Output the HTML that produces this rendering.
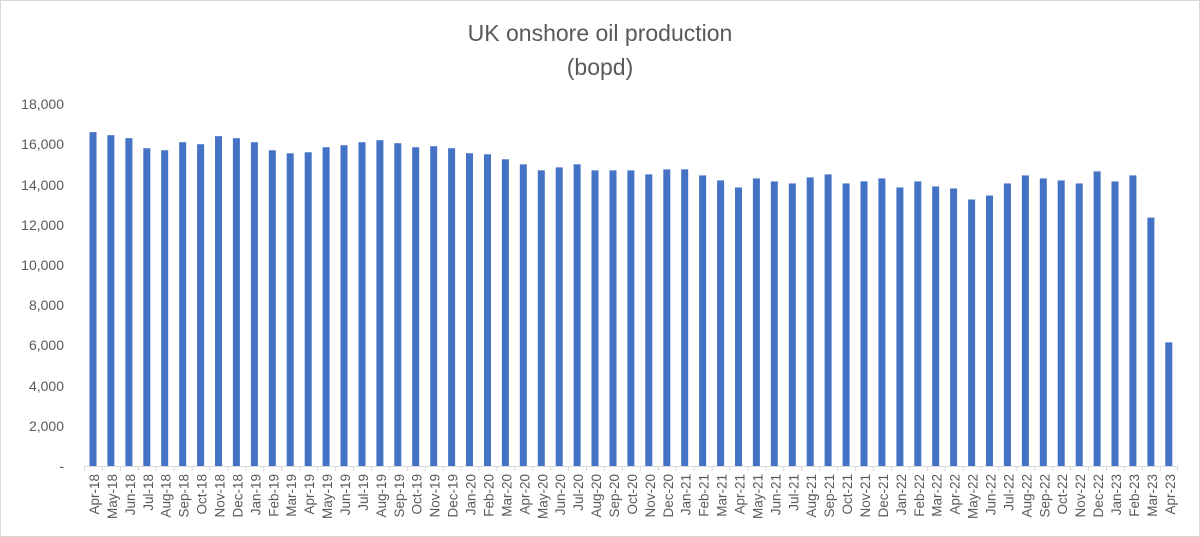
<!DOCTYPE html>
<html><head><meta charset="utf-8"><style>
html,body{margin:0;padding:0;background:#fff}
svg{display:block}
</style></head><body>
<svg width="1200" height="537" xmlns="http://www.w3.org/2000/svg" font-family="Liberation Sans, sans-serif">
<rect x="0.5" y="0.5" width="1199" height="536" fill="#fff" stroke="#d9d9d9"/>
<text x="600" y="41" text-anchor="middle" font-size="23" fill="#595959">UK onshore oil production</text>
<text x="600" y="75" text-anchor="middle" font-size="23" fill="#595959">(bopd)</text>
<g font-size="14" fill="#595959" text-anchor="end">
<text x="64" y="471">-</text>
<text x="64" y="431">2,000</text>
<text x="64" y="391">4,000</text>
<text x="64" y="350">6,000</text>
<text x="64" y="310">8,000</text>
<text x="64" y="270">10,000</text>
<text x="64" y="230">12,000</text>
<text x="64" y="190">14,000</text>
<text x="64" y="149">16,000</text>
<text x="64" y="109">18,000</text>
</g>
<line x1="84" y1="466.5" x2="1178" y2="466.5" stroke="#d9d9d9"/>
<path stroke="#d9d9d9" stroke-width="1" d="M84.5 466v5M102.4 466v5M120.4 466v5M138.3 466v5M156.2 466v5M174.2 466v5M192.1 466v5M210 466v5M227.9 466v5M245.9 466v5M263.8 466v5M281.7 466v5M299.7 466v5M317.6 466v5M335.5 466v5M353.5 466v5M371.4 466v5M389.3 466v5M407.2 466v5M425.2 466v5M443.1 466v5M461 466v5M479 466v5M496.9 466v5M514.8 466v5M532.8 466v5M550.7 466v5M568.6 466v5M586.5 466v5M604.5 466v5M622.4 466v5M640.3 466v5M658.3 466v5M676.2 466v5M694.1 466v5M712.1 466v5M730 466v5M747.9 466v5M765.8 466v5M783.8 466v5M801.7 466v5M819.6 466v5M837.6 466v5M855.5 466v5M873.4 466v5M891.4 466v5M909.3 466v5M927.2 466v5M945.1 466v5M963.1 466v5M981 466v5M998.9 466v5M1016.9 466v5M1034.8 466v5M1052.7 466v5M1070.7 466v5M1088.6 466v5M1106.5 466v5M1124.4 466v5M1142.4 466v5M1160.3 466v5M1177.5 466v5"/>
<g fill="#4472c4" transform="translate(0,466) scale(1,-0.020111)">
<rect x="89.5" y="0" width="7" height="16600"/>
<rect x="107.4" y="0" width="7" height="16450"/>
<rect x="125.4" y="0" width="7" height="16300"/>
<rect x="143.3" y="0" width="7" height="15800"/>
<rect x="161.2" y="0" width="7" height="15700"/>
<rect x="179.2" y="0" width="7" height="16100"/>
<rect x="197.1" y="0" width="7" height="16000"/>
<rect x="215.0" y="0" width="7" height="16400"/>
<rect x="232.9" y="0" width="7" height="16300"/>
<rect x="250.9" y="0" width="7" height="16100"/>
<rect x="268.8" y="0" width="7" height="15700"/>
<rect x="286.7" y="0" width="7" height="15550"/>
<rect x="304.7" y="0" width="7" height="15600"/>
<rect x="322.6" y="0" width="7" height="15850"/>
<rect x="340.5" y="0" width="7" height="15950"/>
<rect x="358.5" y="0" width="7" height="16100"/>
<rect x="376.4" y="0" width="7" height="16200"/>
<rect x="394.3" y="0" width="7" height="16050"/>
<rect x="412.2" y="0" width="7" height="15850"/>
<rect x="430.2" y="0" width="7" height="15900"/>
<rect x="448.1" y="0" width="7" height="15800"/>
<rect x="466.0" y="0" width="7" height="15550"/>
<rect x="484.0" y="0" width="7" height="15500"/>
<rect x="501.9" y="0" width="7" height="15250"/>
<rect x="519.8" y="0" width="7" height="15000"/>
<rect x="537.8" y="0" width="7" height="14700"/>
<rect x="555.7" y="0" width="7" height="14850"/>
<rect x="573.6" y="0" width="7" height="15000"/>
<rect x="591.5" y="0" width="7" height="14700"/>
<rect x="609.5" y="0" width="7" height="14700"/>
<rect x="627.4" y="0" width="7" height="14700"/>
<rect x="645.3" y="0" width="7" height="14500"/>
<rect x="663.3" y="0" width="7" height="14750"/>
<rect x="681.2" y="0" width="7" height="14750"/>
<rect x="699.1" y="0" width="7" height="14450"/>
<rect x="717.1" y="0" width="7" height="14200"/>
<rect x="735.0" y="0" width="7" height="13850"/>
<rect x="752.9" y="0" width="7" height="14300"/>
<rect x="770.8" y="0" width="7" height="14150"/>
<rect x="788.8" y="0" width="7" height="14050"/>
<rect x="806.7" y="0" width="7" height="14350"/>
<rect x="824.6" y="0" width="7" height="14500"/>
<rect x="842.6" y="0" width="7" height="14050"/>
<rect x="860.5" y="0" width="7" height="14150"/>
<rect x="878.4" y="0" width="7" height="14300"/>
<rect x="896.4" y="0" width="7" height="13850"/>
<rect x="914.3" y="0" width="7" height="14150"/>
<rect x="932.2" y="0" width="7" height="13900"/>
<rect x="950.1" y="0" width="7" height="13800"/>
<rect x="968.1" y="0" width="7" height="13250"/>
<rect x="986.0" y="0" width="7" height="13450"/>
<rect x="1003.9" y="0" width="7" height="14050"/>
<rect x="1021.9" y="0" width="7" height="14450"/>
<rect x="1039.8" y="0" width="7" height="14300"/>
<rect x="1057.7" y="0" width="7" height="14200"/>
<rect x="1075.7" y="0" width="7" height="14050"/>
<rect x="1093.6" y="0" width="7" height="14650"/>
<rect x="1111.5" y="0" width="7" height="14150"/>
<rect x="1129.4" y="0" width="7" height="14450"/>
<rect x="1147.4" y="0" width="7" height="12350"/>
<rect x="1165.3" y="0" width="7" height="6150"/>
</g>
<g font-size="13.5" fill="#595959" text-anchor="end">
<text transform="translate(99,474) rotate(-90)">Apr-18</text>
<text transform="translate(116.9,474) rotate(-90)">May-18</text>
<text transform="translate(134.9,474) rotate(-90)">Jun-18</text>
<text transform="translate(152.8,474) rotate(-90)">Jul-18</text>
<text transform="translate(170.7,474) rotate(-90)">Aug-18</text>
<text transform="translate(188.7,474) rotate(-90)">Sep-18</text>
<text transform="translate(206.6,474) rotate(-90)">Oct-18</text>
<text transform="translate(224.5,474) rotate(-90)">Nov-18</text>
<text transform="translate(242.4,474) rotate(-90)">Dec-18</text>
<text transform="translate(260.4,474) rotate(-90)">Jan-19</text>
<text transform="translate(278.3,474) rotate(-90)">Feb-19</text>
<text transform="translate(296.2,474) rotate(-90)">Mar-19</text>
<text transform="translate(314.2,474) rotate(-90)">Apr-19</text>
<text transform="translate(332.1,474) rotate(-90)">May-19</text>
<text transform="translate(350,474) rotate(-90)">Jun-19</text>
<text transform="translate(368,474) rotate(-90)">Jul-19</text>
<text transform="translate(385.9,474) rotate(-90)">Aug-19</text>
<text transform="translate(403.8,474) rotate(-90)">Sep-19</text>
<text transform="translate(421.7,474) rotate(-90)">Oct-19</text>
<text transform="translate(439.7,474) rotate(-90)">Nov-19</text>
<text transform="translate(457.6,474) rotate(-90)">Dec-19</text>
<text transform="translate(475.5,474) rotate(-90)">Jan-20</text>
<text transform="translate(493.5,474) rotate(-90)">Feb-20</text>
<text transform="translate(511.4,474) rotate(-90)">Mar-20</text>
<text transform="translate(529.3,474) rotate(-90)">Apr-20</text>
<text transform="translate(547.3,474) rotate(-90)">May-20</text>
<text transform="translate(565.2,474) rotate(-90)">Jun-20</text>
<text transform="translate(583.1,474) rotate(-90)">Jul-20</text>
<text transform="translate(601,474) rotate(-90)">Aug-20</text>
<text transform="translate(619,474) rotate(-90)">Sep-20</text>
<text transform="translate(636.9,474) rotate(-90)">Oct-20</text>
<text transform="translate(654.8,474) rotate(-90)">Nov-20</text>
<text transform="translate(672.8,474) rotate(-90)">Dec-20</text>
<text transform="translate(690.7,474) rotate(-90)">Jan-21</text>
<text transform="translate(708.6,474) rotate(-90)">Feb-21</text>
<text transform="translate(726.6,474) rotate(-90)">Mar-21</text>
<text transform="translate(744.5,474) rotate(-90)">Apr-21</text>
<text transform="translate(762.4,474) rotate(-90)">May-21</text>
<text transform="translate(780.3,474) rotate(-90)">Jun-21</text>
<text transform="translate(798.3,474) rotate(-90)">Jul-21</text>
<text transform="translate(816.2,474) rotate(-90)">Aug-21</text>
<text transform="translate(834.1,474) rotate(-90)">Sep-21</text>
<text transform="translate(852.1,474) rotate(-90)">Oct-21</text>
<text transform="translate(870,474) rotate(-90)">Nov-21</text>
<text transform="translate(887.9,474) rotate(-90)">Dec-21</text>
<text transform="translate(905.9,474) rotate(-90)">Jan-22</text>
<text transform="translate(923.8,474) rotate(-90)">Feb-22</text>
<text transform="translate(941.7,474) rotate(-90)">Mar-22</text>
<text transform="translate(959.6,474) rotate(-90)">Apr-22</text>
<text transform="translate(977.6,474) rotate(-90)">May-22</text>
<text transform="translate(995.5,474) rotate(-90)">Jun-22</text>
<text transform="translate(1013.4,474) rotate(-90)">Jul-22</text>
<text transform="translate(1031.4,474) rotate(-90)">Aug-22</text>
<text transform="translate(1049.3,474) rotate(-90)">Sep-22</text>
<text transform="translate(1067.2,474) rotate(-90)">Oct-22</text>
<text transform="translate(1085.2,474) rotate(-90)">Nov-22</text>
<text transform="translate(1103.1,474) rotate(-90)">Dec-22</text>
<text transform="translate(1121,474) rotate(-90)">Jan-23</text>
<text transform="translate(1138.9,474) rotate(-90)">Feb-23</text>
<text transform="translate(1156.9,474) rotate(-90)">Mar-23</text>
<text transform="translate(1174.8,474) rotate(-90)">Apr-23</text>
</g>
</svg>
</body></html>
